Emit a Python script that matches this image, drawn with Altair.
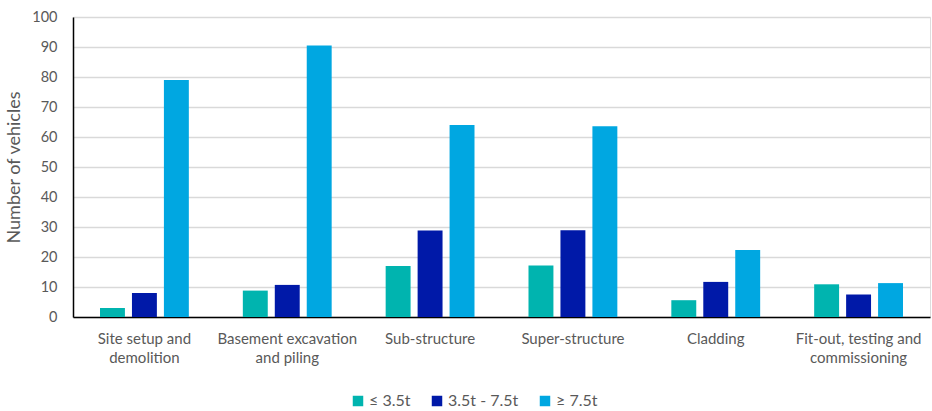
import altair as alt
import pandas as pd

categories = [
    "Site setup and\ndemolition",
    "Basement excavation\nand piling",
    "Sub-structure",
    "Super-structure",
    "Cladding",
    "Fit-out, testing and\ncommissioning",
]
series = ["≤ 3.5t", "3.5t - 7.5t", "≥ 7.5t"]
light_vals = [3.0, 8.8, 17.0, 17.2, 5.6, 10.9]
medium_vals = [8.0, 10.7, 28.8, 28.9, 11.7, 7.5]
heavy_vals = [79.0, 90.5, 64.0, 63.6, 22.3, 11.3]
colors = ["#00B4AF", "#0019A8", "#00A7E1"]

rows = []
for i, c in enumerate(categories):
    for s, vals in zip(series, [light_vals, medium_vals, heavy_vals]):
        rows.append({"stage": c, "weight": s, "vehicles": vals[i]})
df = pd.DataFrame(rows)

font = "Lato"
grey = "#595959"

chart = alt.Chart(df).mark_bar().encode(
    x=alt.X(
        "stage:N",
        sort=categories,
        scale=alt.Scale(paddingInner=0.378, paddingOuter=0.189),
        axis=alt.Axis(
            title=None,
            labelAngle=0,
            labelExpr="split(datum.label, '\\n')",
            labelFont=font,
            labelFontSize=15,
            labelColor=grey,
            labelLineHeight=19,
            labelPadding=14,
            ticks=False,
            domainColor="#000000",
            domainWidth=1.5,
            labelLimit=200,
        ),
    ),
    xOffset=alt.XOffset(
        "weight:N", sort=series, scale=alt.Scale(paddingInner=0.22, paddingOuter=0)
    ),
    y=alt.Y(
        "vehicles:Q",
        scale=alt.Scale(domain=[0, 100], nice=False),
        axis=alt.Axis(
            title="Number of vehicles",
            titleFont=font,
            titleFontSize=18,
            titleFontWeight="normal",
            titleColor=grey,
            titlePadding=8,
            values=list(range(0, 101, 10)),
            labelFont=font,
            labelFontSize=14.5,
            labelColor=grey,
            labelPadding=16,
            ticks=False,
            domainColor="#000000",
            domainWidth=1.5,
            gridColor="#d9d9d9",
            gridWidth=1.5,
        ),
    ),
    color=alt.Color(
        "weight:N",
        sort=series,
        scale=alt.Scale(domain=series, range=colors),
        legend=alt.Legend(
            title=None,
            orient="none",
            direction="horizontal",
            legendX=277,
            legendY=376,
            symbolType="square",
            symbolSize=110,
            symbolStrokeWidth=0,
            symbolOpacity=1,
            labelFont=font,
            labelFontSize=16,
            labelColor=grey,
            labelOffset=3,
            columnPadding=18,
        ),
    ),
).properties(
    width=857,
    height=300,
    padding={"left": 73, "top": 17, "right": 2, "bottom": 94},
    autosize=alt.AutoSizeParams(type="none"),
).configure_view(stroke=None).configure(background="white")

chart.save("out.html", embed_options={"renderer": "svg", "actions": False})
